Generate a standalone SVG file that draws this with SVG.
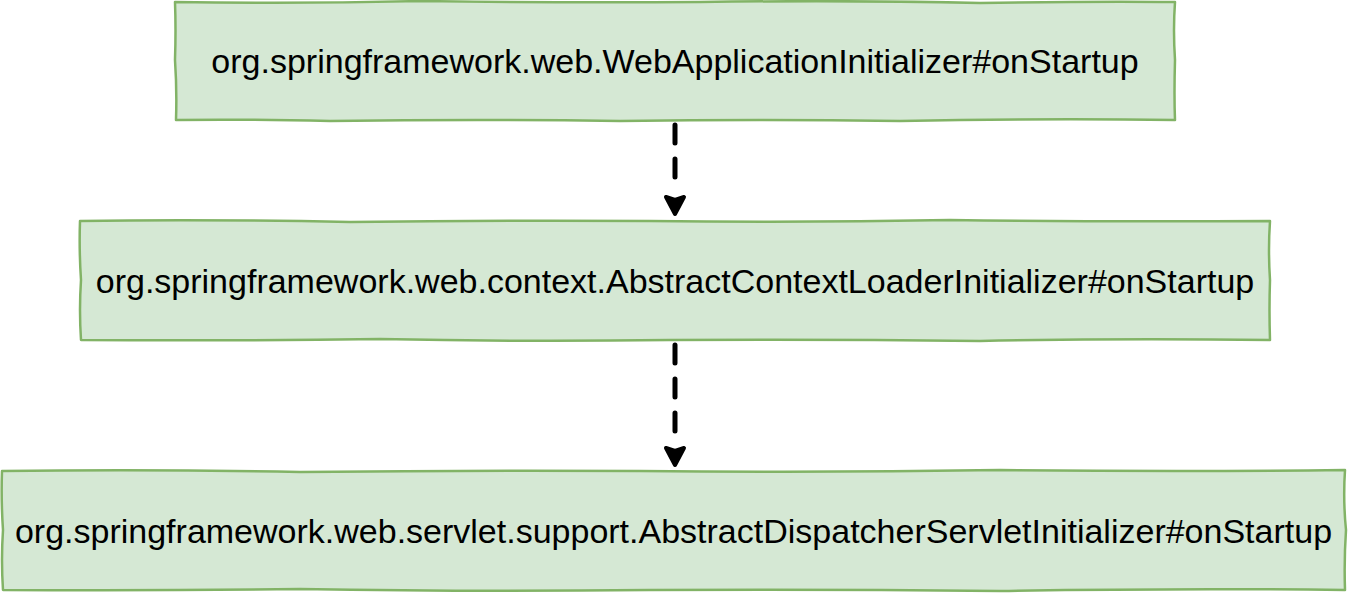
<svg xmlns="http://www.w3.org/2000/svg" width="1350" height="594" viewBox="0 0 1350 594">
<style>
.box{fill:#d5e8d4;stroke:#82b366;stroke-width:2.5;stroke-linejoin:round}
.lbl{font-family:"Liberation Sans",Arial,sans-serif;font-size:34px;fill:#000;text-anchor:middle;dominant-baseline:central}
.edge{stroke:#000;stroke-width:5;stroke-dasharray:18 16;stroke-linecap:round;fill:none}
.head{fill:#000;stroke:#000;stroke-width:4;stroke-linejoin:round}
</style>
<g id="node1">
<path class="box" d="M175,2 Q300,4 420,1 Q560,3 700,2 Q850,0 980,3 Q1100,1 1175,2 Q1173,30 1175,60 Q1174,95 1175,120 Q1050,118 900,121 Q760,119 620,121 Q480,119 330,121 Q240,119 176,120 Q177,90 175,60 Q176,30 175,2 Z"/>
<text class="lbl" x="675" y="61">org.springframework.web.WebApplicationInitializer#onStartup</text>
</g>
<g id="node2">
<path class="box" d="M80,221 Q200,219 350,222 Q500,220 650,221 Q800,223 950,220 Q1100,222 1270,221 Q1268,250 1270,280 Q1269,310 1270,340 Q1120,338 980,341 Q820,339 670,340 Q520,342 380,339 Q230,341 81,340 Q79,310 81,280 Q79,250 80,221 Z"/>
<text class="lbl" x="675" y="281">org.springframework.web.context.AbstractContextLoaderInitializer#onStartup</text>
</g>
<g id="node3">
<path class="box" d="M2,471 Q150,469 300,472 Q470,470 640,471 Q820,473 1000,470 Q1180,472 1345,470 Q1343,500 1346,530 Q1344,560 1345,590 Q1180,588 1000,591 Q820,589 650,590 Q470,592 300,589 Q150,591 3,590 Q1,560 3,530 Q1,500 2,471 Z"/>
<text class="lbl" x="673.5" y="531">org.springframework.web.servlet.support.AbstractDispatcherServletInitializer#onStartup</text>
</g>
<g id="connectors">
<path class="edge" d="M675,125 L675,192"/>
<path class="head" d="M666,197 L675,214 L684,197 L675,200 Z"/>
<path class="edge" d="M675,345 L675,442"/>
<path class="head" d="M666,448 L675,465 L684,448 L675,451 Z"/>
</g>
</svg>
